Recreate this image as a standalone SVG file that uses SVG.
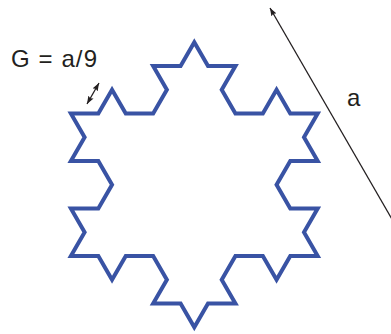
<svg xmlns="http://www.w3.org/2000/svg" width="391" height="334" viewBox="0 0 391 334">
<style>
.curve{fill:none;stroke:#3953a4;stroke-width:4;stroke-linejoin:miter;stroke-miterlimit:4}
.dim{fill:none;stroke:#231f20;stroke-width:1.3}
.lbl{font-family:"Liberation Sans",Arial,sans-serif;font-size:24px;fill:#231f20}
</style>
<defs>
<marker id="ah" markerUnits="userSpaceOnUse" markerWidth="8" markerHeight="6" refX="8" refY="3" orient="auto-start-reverse" viewBox="0 0 8 6">
<path d="M0,0 L8,3 L0,6 L1.5,3 z" fill="#231f20"/>
</marker>
</defs>
<rect width="391" height="334" fill="#ffffff"/>
<g id="snowflake">
<path class="curve" d="M194.3,42.3
l-13.71,23.75 -27.42,0 13.71,23.75 -13.71,23.75
-27.42,0 -13.71,-23.75 -13.71,23.75 -27.42,0
13.71,23.75 -13.71,23.75 27.42,0 13.71,23.75
-13.71,23.75 -27.42,0 13.71,23.75 -13.71,23.75
27.42,0 13.71,23.75 13.71,-23.75 27.42,0
13.71,23.75 -13.71,23.75 27.42,0 13.71,23.75
13.71,-23.75 27.42,0 -13.71,-23.75 13.71,-23.75
27.42,0 13.71,23.75 13.71,-23.75 27.42,0
-13.71,-23.75 13.71,-23.75 -27.42,0 -13.71,-23.75
13.71,-23.75 27.42,0 -13.71,-23.75 13.71,-23.75
-27.42,0 -13.71,-23.75 -13.71,23.75 -27.42,0
-13.71,-23.75 13.71,-23.75 -27.42,0 -13.71,-23.75 z"/>
</g>
<g id="label-G">
<text class="lbl" x="11" y="66.5" textLength="86" lengthAdjust="spacing">G = a/9</text>
</g>
<g id="label-a">
<text class="lbl" x="347" y="106">a</text>
</g>
<g id="connectors">
<line id="dim-G" class="dim" x1="87" y1="104" x2="99" y2="83" marker-start="url(#ah)" marker-end="url(#ah)"/>
<line id="dim-a" class="dim" x1="270" y1="8" x2="393" y2="221" marker-start="url(#ah)"/>
</g>
</svg>
